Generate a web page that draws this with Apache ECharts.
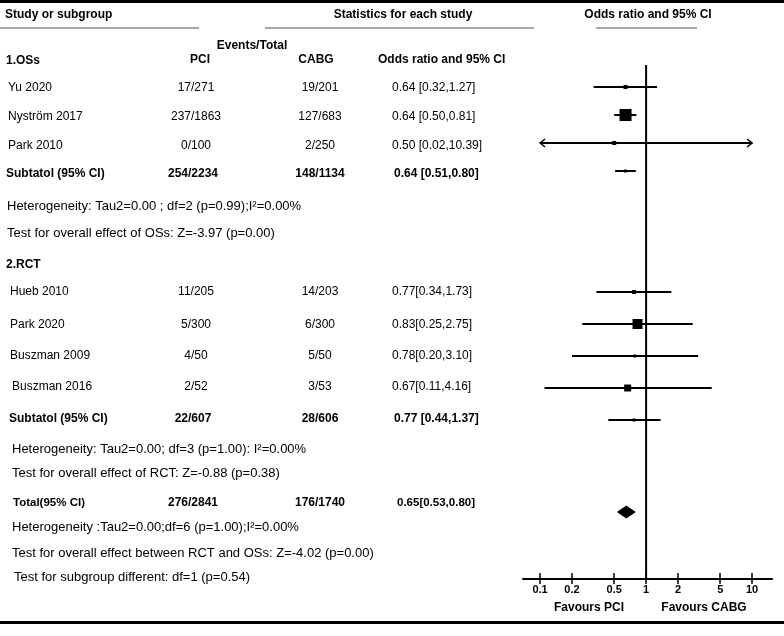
<!DOCTYPE html>
<html>
<head>
  <meta charset="utf-8">
  <title>Forest plot</title>
  <style>
    body {
      margin: 0;
      background: #fff;
    }
    #forest {
      width: 784px;
      height: 636px;
    }
  </style>
  <script src="https://cdn.jsdelivr.net/npm/echarts@6.0.0/dist/echarts.min.js"></script>
</head>
<body>
  <div id="forest"></div>
  <script>
    // ---- data ----
    var studyNames = ['Yu 2020', 'Nyström 2017', 'Park 2010', 'Hueb 2010', 'Park 2020', 'Buszman 2009', 'Buszman 2016'];
    var studyGroup = [0, 0, 0, 1, 1, 1, 1];
    var pciText = ['17/271', '237/1863', '0/100', '11/205', '5/300', '4/50', '2/52'];
    var cabgText = ['19/201', '127/683', '2/250', '14/203', '6/300', '5/50', '3/53'];
    var orMid = [0.64, 0.64, 0.50, 0.77, 0.83, 0.78, 0.67];
    var orLow = [0.32, 0.50, 0.02, 0.34, 0.25, 0.20, 0.11];
    var orHigh = [1.27, 0.81, 10.39, 1.73, 2.75, 3.10, 4.16];
    var orText = ['0.64 [0.32,1.27]', '0.64 [0.50,0.81]', '0.50 [0.02,10.39]', '0.77[0.34,1.73]',
      '0.83[0.25,2.75]', '0.78[0.20,3.10]', '0.67[0.11,4.16]'];

    var groupTitles = ['1.OSs', '2.RCT'];
    var poolNames = ['Subtatol (95% CI)', 'Subtatol (95% CI)', 'Total(95% CI)'];
    var poolPci = ['254/2234', '22/607', '276/2841'];
    var poolCabg = ['148/1134', '28/606', '176/1740'];
    var poolMid = [0.64, 0.77, 0.65];
    var poolLow = [0.51, 0.44, 0.53];
    var poolHigh = [0.80, 1.37, 0.80];
    var poolText = ['0.64 [0.51,0.80]', '0.77 [0.44,1.37]', '0.65[0.53,0.80]'];

    var statLines = [
      'Heterogeneity: Tau2=0.00 ; df=2 (p=0.99);I\u00b2=0.00%',
      'Test for overall effect of OSs: Z=-3.97 (p=0.00)',
      'Heterogeneity: Tau2=0.00; df=3 (p=1.00): I\u00b2=0.00%',
      'Test for overall effect of RCT: Z=-0.88 (p=0.38)',
      'Heterogeneity :Tau2=0.00;df=6 (p=1.00);I\u00b2=0.00%',
      'Test for overall effect between RCT and OSs: Z=-4.02 (p=0.00)',
      'Test for subgroup different: df=1 (p=0.54)'
    ];
    var xTicks = [0.1, 0.2, 0.5, 1, 2, 5, 10];

    // ---- layout ----
    var FONT = '"Liberation Sans", Arial, sans-serif';
    var studyY = [88, 117, 146, 292, 325, 356, 387];
    var studyX = [8, 8, 8, 10, 10, 10, 12];
    var poolY = [174, 419, 503];
    var poolX = [6, 9, 13];
    var groupY = [61, 265];
    var statY = [206, 233, 449, 473, 527, 553, 577];
    var statX = [7, 7, 12, 12, 12, 12, 14];
    var boxSize = [4, 12, 4, 4, 10, 3, 7];
    var pciX = 196, cabgX = 320, orX = 392;
    var axisMin = 0.069, axisMax = 15.4;
    var plotLeft = 523, plotWidth = 249;

    var lg = Math.log10;

    function txt(s, x, y, opts) {
      opts = opts || {};
      return {
        type: 'text', silent: true,
        style: {
          text: s, x: x, y: y,
          font: (opts.bold ? 'bold ' : '') + (opts.size || 12) + 'px ' + FONT,
          fill: '#000',
          textAlign: opts.align || 'left',
          textVerticalAlign: 'middle'
        }
      };
    }
    function rule(x1, x2, y, color, w) {
      return {
        type: 'line', silent: true,
        shape: { x1: x1, y1: y, x2: x2, y2: y },
        style: { stroke: color, lineWidth: w }
      };
    }

    var graphics = [
      { type: 'rect', silent: true, shape: { x: 0, y: 0, width: 784, height: 3 }, style: { fill: '#000' } },
      { type: 'rect', silent: true, shape: { x: 0, y: 621, width: 784, height: 3 }, style: { fill: '#000' } },
      txt('Study or subgroup', 5, 15, { bold: true }),
      txt('Statistics for each study', 403, 15, { bold: true, align: 'center' }),
      txt('Odds ratio and 95% CI', 648, 15, { bold: true, align: 'center' }),
      rule(0, 199, 28, '#8a8a8a', 1.5),
      rule(265, 534, 28, '#8a8a8a', 1.5),
      rule(596, 697, 28, '#8a8a8a', 1.5),
      txt('Events/Total', 252, 46, { bold: true, align: 'center' }),
      txt('PCI', 200, 60, { bold: true, align: 'center' }),
      txt('CABG', 316, 60, { bold: true, align: 'center' }),
      txt('Odds ratio and 95% CI', 378, 60, { bold: true }),
      txt('Favours PCI', 589, 608, { bold: true, align: 'center' }),
      txt('Favours CABG', 704, 608, { bold: true, align: 'center' })
    ];
    groupTitles.forEach(function (g, i) {
      graphics.push(txt(g, 6, groupY[i], { bold: true }));
    });
    studyNames.forEach(function (n, i) {
      graphics.push(txt(n, studyX[i], studyY[i]));
      graphics.push(txt(pciText[i], pciX, studyY[i], { align: 'center' }));
      graphics.push(txt(cabgText[i], cabgX, studyY[i], { align: 'center' }));
      graphics.push(txt(orText[i], orX, studyY[i]));
    });
    poolNames.forEach(function (n, i) {
      var small = i === 2 ? 11.5 : 12;
      graphics.push(txt(n, poolX[i], poolY[i], { bold: true, size: small }));
      graphics.push(txt(poolPci[i], pciX - 3, poolY[i], { bold: true, align: 'center' }));
      graphics.push(txt(poolCabg[i], cabgX, poolY[i], { bold: true, align: 'center' }));
      graphics.push(txt(poolText[i], orX + (i === 2 ? 5 : 2), poolY[i], { bold: true, size: small }));
    });
    statLines.forEach(function (s, i) {
      graphics.push(txt(s, statX[i], statY[i], { size: 13 }));
    });

    // ---- plot rows: one grid per section ----
    var sections = [
      { top: 73, height: 112 },  // OSs: 3 studies + subtotal
      { top: 276, height: 160 }, // RCT: 4 studies + subtotal
      { top: 500, height: 24 }   // overall
    ];
    var sectionData = [[], [], []];
    studyNames.forEach(function (n, i) {
      var g = studyGroup[i];
      sectionData[g].push([lg(orLow[i]), lg(orHigh[i]), lg(orMid[i]), sectionData[g].length, boxSize[i], 0]);
    });
    poolNames.forEach(function (n, i) {
      sectionData[i].push([lg(poolLow[i]), lg(poolHigh[i]), lg(poolMid[i]), sectionData[i].length, 3, i === 2 ? 1 : 0]);
    });

    var cutLo = lg(xTicks[0]), cutHi = lg(xTicks[xTicks.length - 1]);

    function renderCI(params, api) {
      var lo = api.value(0), hi = api.value(1), mid = api.value(2), slot = api.value(3);
      var size = api.value(4), diamond = api.value(5);
      var a = api.coord([Math.max(lo, cutLo), slot]);
      var b = api.coord([Math.min(hi, cutHi), slot]);
      var m = api.coord([mid, slot]);
      var kids = [];
      if (diamond) {
        kids.push({
          type: 'polygon',
          shape: { points: [[a[0], m[1]], [m[0], m[1] - 6.5], [b[0], m[1]], [m[0], m[1] + 6.5]] },
          style: { fill: '#000' }
        });
      } else {
        kids.push({
          type: 'line', shape: { x1: a[0], y1: a[1], x2: b[0], y2: b[1] },
          style: { stroke: '#000', lineWidth: 2 }
        });
        kids.push({
          type: 'rect', shape: { x: m[0] - size / 2, y: m[1] - size / 2, width: size, height: size },
          style: { fill: '#000' }
        });
        if (lo < cutLo) {
          kids.push({
            type: 'polyline', shape: { points: [[a[0] + 5, a[1] - 4], [a[0], a[1]], [a[0] + 5, a[1] + 4]] },
            style: { stroke: '#000', lineWidth: 1.5, fill: null }
          });
        }
        if (hi > cutHi) {
          kids.push({
            type: 'polyline', shape: { points: [[b[0] - 5, b[1] - 4], [b[0], b[1]], [b[0] - 5, b[1] + 4]] },
            style: { stroke: '#000', lineWidth: 1.5, fill: null }
          });
        }
      }
      return { type: 'group', children: kids };
    }

    var tickPos = xTicks.map(lg);
    var grids = [{ left: plotLeft, width: plotWidth, top: 65, height: 514, outerBoundsMode: 'none' }];
    var xAxes = [
      {
        gridIndex: 0, type: 'value', position: 'bottom', min: lg(axisMin), max: lg(axisMax),
        axisLine: { lineStyle: { color: '#000', width: 2 } },
        axisTick: { customValues: tickPos, length: 5, lineStyle: { color: '#000', width: 1.5 } },
        axisLabel: {
          customValues: tickPos, margin: 5, color: '#000', fontWeight: 'bold', fontSize: 11, fontFamily: FONT,
          formatter: function (v) { return String(+Math.pow(10, v).toFixed(1)); }
        },
        splitLine: { show: false }
      },
      {
        gridIndex: 0, type: 'value', position: 'bottom', min: lg(axisMin), max: lg(axisMax),
        axisLine: { show: false },
        axisTick: { customValues: tickPos, inside: true, length: 6, lineStyle: { color: '#000', width: 1.5 } },
        axisLabel: { show: false },
        splitLine: { show: false }
      }
    ];
    var yAxes = [{ gridIndex: 0, type: 'value', min: 0, max: 1, show: false }];
    var series = [{
      type: 'line', xAxisIndex: 0, yAxisIndex: 0, symbol: 'none', silent: true,
      data: [[lg(1), 0], [lg(1), 1]],
      lineStyle: { color: '#000', width: 2 }
    }];

    sections.forEach(function (s, k) {
      var gi = k + 1;
      grids.push({ left: plotLeft, width: plotWidth, top: s.top, height: s.height, outerBoundsMode: 'none' });
      xAxes.push({ gridIndex: gi, type: 'value', min: lg(axisMin), max: lg(axisMax), show: false });
      yAxes.push({
        gridIndex: gi, type: 'category', inverse: true, show: false,
        data: sectionData[k].map(function (d, j) { return String(j); })
      });
      series.push({
        type: 'custom', xAxisIndex: gi + 1, yAxisIndex: gi, silent: true,
        renderItem: renderCI,
        encode: { x: [0, 1, 2], y: 3 },
        data: sectionData[k]
      });
    });

    var chart = echarts.init(document.getElementById('forest'));
    chart.setOption({
      animation: false,
      backgroundColor: '#fff',
      grid: grids,
      xAxis: xAxes,
      yAxis: yAxes,
      series: series,
      graphic: graphics
    });
  </script>
</body>
</html>
